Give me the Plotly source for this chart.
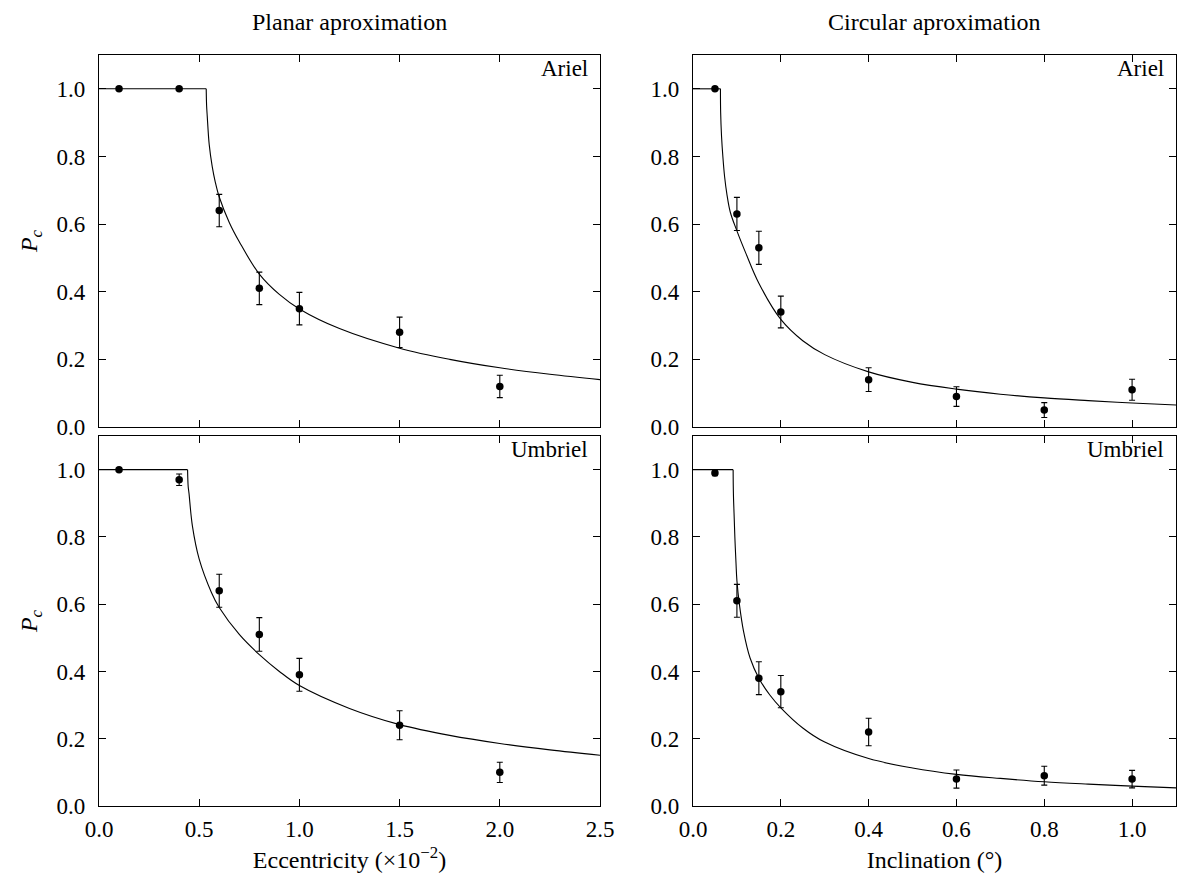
import plotly.graph_objects as go

# ---------------- data ----------------
ecc_x = [0.1, 0.4, 0.6, 0.8, 1.0, 1.5, 2.0]
ariel_ecc_y = [1.0, 1.0, 0.64, 0.41, 0.35, 0.28, 0.12]
ariel_ecc_err = [0.0, 0.0, 0.048, 0.048, 0.048, 0.045, 0.033]
umbriel_ecc_y = [1.0, 0.97, 0.64, 0.51, 0.39, 0.24, 0.10]
umbriel_ecc_err = [0.0, 0.017, 0.049, 0.05, 0.049, 0.043, 0.03]

inc_x = [0.05, 0.1, 0.15, 0.2, 0.4, 0.6, 0.8, 1.0]
ariel_inc_y = [1.0, 0.63, 0.53, 0.34, 0.14, 0.09, 0.05, 0.11]
ariel_inc_err = [0.0, 0.049, 0.049, 0.047, 0.035, 0.029, 0.022, 0.031]
umbriel_inc_y = [0.99, 0.61, 0.38, 0.34, 0.22, 0.08, 0.09, 0.08]
umbriel_inc_err = [0.008, 0.049, 0.049, 0.048, 0.041, 0.027, 0.028, 0.026]

# model curves
ariel_ecc_curve_x = [0.535, 0.537, 0.54, 0.55, 0.565, 0.58, 0.6, 0.65, 0.7, 0.8, 0.9,
                     1.0, 1.2, 1.5, 1.75, 2.0, 2.25, 2.5]
ariel_ecc_curve_y = [1.0, 0.95, 0.92, 0.835, 0.77, 0.725, 0.68, 0.605, 0.548, 0.452, 0.392,
                     0.349, 0.291, 0.233, 0.2, 0.175, 0.156, 0.14]

umbriel_ecc_curve_x = [0.442, 0.445, 0.449, 0.466, 0.5, 0.561, 0.6, 0.7, 0.8, 0.9, 1.0,
                       1.25, 1.5, 1.75, 2.0, 2.25, 2.5]
umbriel_ecc_curve_y = [1.0, 0.95, 0.93, 0.833, 0.734, 0.635, 0.59, 0.51, 0.45, 0.40, 0.358,
                       0.29, 0.242, 0.21, 0.186, 0.167, 0.151]

ariel_inc_curve_x = [0.0625, 0.063, 0.065, 0.068, 0.072, 0.077, 0.085, 0.1, 0.12, 0.15, 0.2,
                     0.25, 0.3, 0.4, 0.5, 0.6, 0.7, 0.8, 0.9, 1.0, 1.1]
ariel_inc_curve_y = [1.0, 0.93, 0.86, 0.80, 0.74, 0.69, 0.635, 0.58, 0.515, 0.425, 0.318,
                     0.255, 0.214, 0.163, 0.132, 0.112, 0.097, 0.086, 0.078, 0.071, 0.065]

umbriel_inc_curve_x = [0.0914, 0.092, 0.0935, 0.0953, 0.098, 0.1, 0.1056, 0.115, 0.13, 0.15,
                       0.175, 0.2, 0.25, 0.3, 0.4, 0.5, 0.6, 0.7, 0.8, 0.9, 1.0, 1.1]
umbriel_inc_curve_y = [1.0, 0.93, 0.87, 0.80, 0.72, 0.67, 0.60, 0.52, 0.44, 0.38,
                       0.33, 0.292, 0.232, 0.19, 0.141, 0.113, 0.094, 0.082, 0.072, 0.065, 0.059, 0.054]

ecc_range = [0.0, 2.5]
inc_range = [0.0, 1.1]
p_range = [0.0, 1.1]
p_ticks = [0.0, 0.2, 0.4, 0.6, 0.8, 1.0]
ecc_ticks = [0.0, 0.5, 1.0, 1.5, 2.0, 2.5]
inc_ticks = [0.0, 0.2, 0.4, 0.6, 0.8, 1.0]

col_titles = ["Planar aproximation", "Circular aproximation"]
moon_names = ["Ariel", "Umbriel"]
x_titles = ["Eccentricity (×10<sup>−2</sup>)", "Inclination (°)"]
y_title = "<i>P</i><sub><i>c</i></sub>"

# ---------------- figure ----------------
W, H = 1193, 881
OFF = 8  # page body margin
FONT = "Liberation Serif"
FS = 23

fig = go.Figure()

panels = [
    ("x", "y", ecc_x, ariel_ecc_y, ariel_ecc_err, ariel_ecc_curve_x, ariel_ecc_curve_y),
    ("x2", "y2", inc_x, ariel_inc_y, ariel_inc_err, ariel_inc_curve_x, ariel_inc_curve_y),
    ("x3", "y3", ecc_x, umbriel_ecc_y, umbriel_ecc_err, umbriel_ecc_curve_x, umbriel_ecc_curve_y),
    ("x4", "y4", inc_x, umbriel_inc_y, umbriel_inc_err, umbriel_inc_curve_x, umbriel_inc_curve_y),
]

for xa, ya, px, py, pe, cx, cy in panels:
    fig.add_trace(go.Scatter(x=[0.0, cx[0]], y=[cy[0], cy[0]], mode="lines",
                             line=dict(color="black", width=1.1), xaxis=xa, yaxis=ya,
                             showlegend=False, hoverinfo="skip"))
    fig.add_trace(go.Scatter(x=cx, y=cy, mode="lines",
                             line=dict(color="black", width=1.1, shape="spline", smoothing=1.0),
                             xaxis=xa, yaxis=ya, showlegend=False, hoverinfo="skip"))
    fig.add_trace(go.Scatter(x=px, y=py, mode="markers",
                             marker=dict(color="black", size=7.5),
                             error_y=dict(type="data", array=pe, visible=True,
                                          color="black", thickness=1.1, width=3),
                             xaxis=xa, yaxis=ya, showlegend=False))

def px_x(p):
    return (p - OFF) / W

def px_y(p):
    return 1 - (p - OFF) / H

left_dom = [px_x(99), px_x(600)]
right_dom = [px_x(693), px_x(1176)]
top_dom = [px_y(427), px_y(55)]
bot_dom = [px_y(806), px_y(436)]

axis_common = dict(showline=True, linecolor="black", linewidth=1.3, mirror="ticks",
                   ticks="inside", ticklen=7, tickwidth=1.1, tickcolor="black",
                   showgrid=False, zeroline=False, automargin=False,
                   tickfont=dict(family=FONT, size=FS, color="black"))

def xax(dom, rng, ticks, anchor, labels, title=None):
    d = dict(axis_common)
    d.update(domain=dom, range=rng, tickvals=ticks, tickformat=".1f", anchor=anchor,
             showticklabels=labels, ticklabelstandoff=2)
    if title:
        d["title"] = dict(text=title, font=dict(family=FONT, size=FS + 1, color="black"), standoff=10)
    return d

def yax(dom, anchor, title=None):
    d = dict(axis_common)
    d.update(domain=dom, range=p_range, tickvals=p_ticks, tickformat=".1f", anchor=anchor,
             ticklabelstandoff=8)
    if title:
        d["title"] = dict(text=title, font=dict(family=FONT, size=FS + 1, color="black"), standoff=12)
    return d

fig.update_layout(
    width=W, height=H,
    margin=dict(l=0, r=0, t=0, b=0, autoexpand=False),
    paper_bgcolor="white", plot_bgcolor="white",
    font=dict(family=FONT, size=FS, color="black"),
    xaxis=xax(left_dom, ecc_range, ecc_ticks, "y", False),
    xaxis2=xax(right_dom, inc_range, inc_ticks, "y2", False),
    xaxis3=xax(left_dom, ecc_range, ecc_ticks, "y3", True, x_titles[0]),
    xaxis4=xax(right_dom, inc_range, inc_ticks, "y4", True, x_titles[1]),
    yaxis=yax(top_dom, "x", y_title),
    yaxis2=yax(top_dom, "x2"),
    yaxis3=yax(bot_dom, "x3", y_title),
    yaxis4=yax(bot_dom, "x4"),
)

annotations = []
for i, t in enumerate(col_titles):
    dom = left_dom if i == 0 else right_dom
    annotations.append(dict(text=t, x=(dom[0] + dom[1]) / 2, y=px_y(22), xref="paper", yref="paper",
                            xanchor="center", yanchor="middle", showarrow=False,
                            font=dict(family=FONT, size=FS + 1, color="black")))
for xr, yr, name in [("x", "y", moon_names[0]), ("x2", "y2", moon_names[0]),
                     ("x3", "y3", moon_names[1]), ("x4", "y4", moon_names[1])]:
    annotations.append(dict(text=name, x=1, y=1, xref=xr + " domain", yref=yr + " domain",
                            xanchor="right", yanchor="top", xshift=-10, yshift=1, showarrow=False,
                            font=dict(family=FONT, size=FS, color="black")))
fig.update_layout(annotations=annotations)

fig.write_html("out.html")
